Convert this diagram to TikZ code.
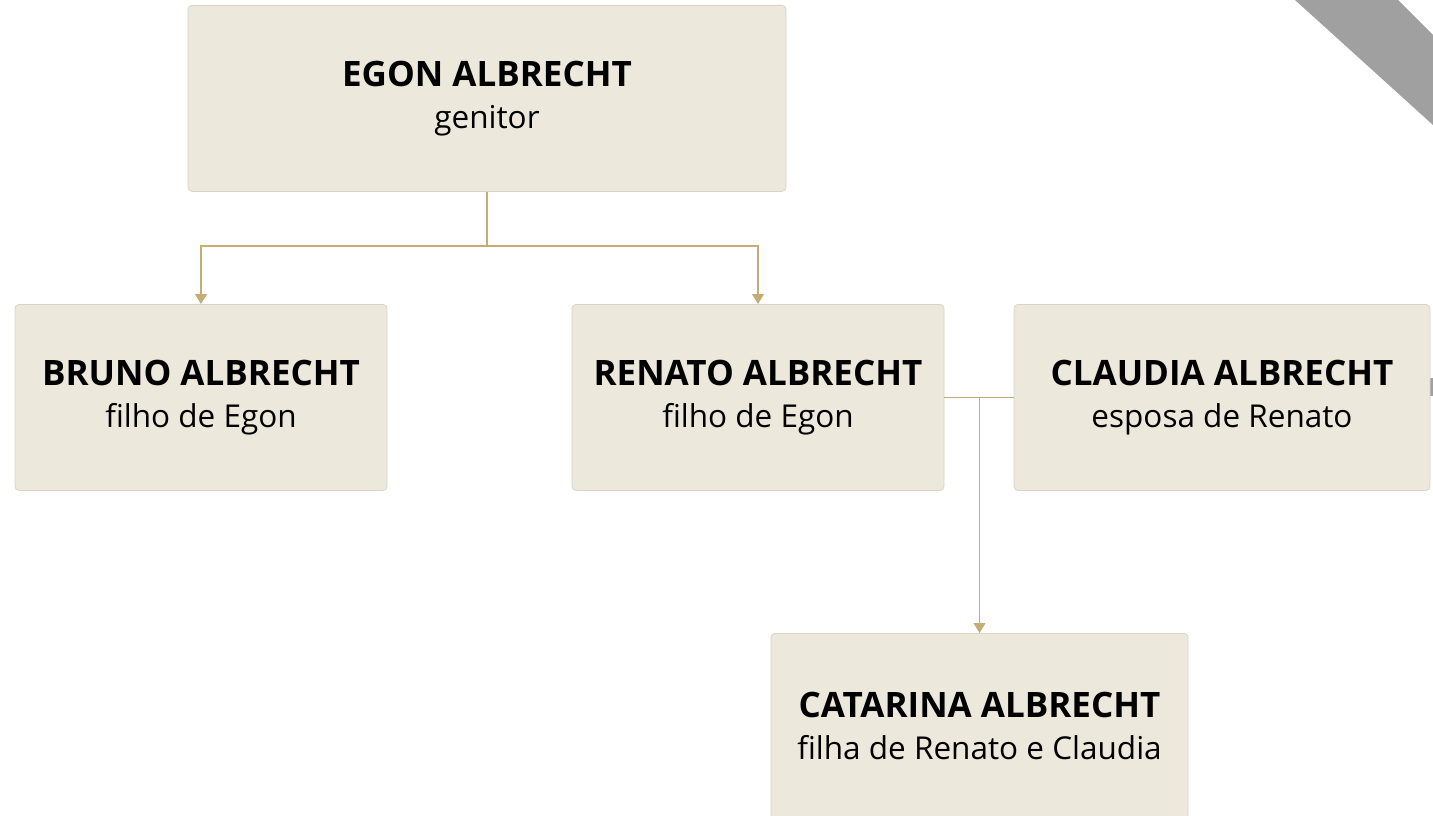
\documentclass[tikz,border=0pt]{standalone}
\usepackage{fontspec}
\setmainfont{Open Sans}
\usepackage{xcolor}
\usetikzlibrary{arrows.meta}
\definecolor{boxfill}{HTML}{ECE8DC}
\definecolor{boxline}{HTML}{DAD4C4}
\definecolor{linkcol}{HTML}{C4AC74}
\definecolor{bandcol}{HTML}{A0A0A0}
\newcommand{\nametext}[1]{{\bfseries\fontsize{35pt}{42pt}\selectfont #1}}
\begin{document}
\begin{tikzpicture}[x=1pt,y=-1pt,%
% common options for the person boxes:
person/.style = {draw=boxline, fill=boxfill, rounded corners=4pt, align=center,
            anchor=north, minimum height=186pt, inner sep=0, line width=0.8pt,
            font=\fontsize{31.5pt}{42pt}\selectfont},
% common options for the links:
link/.style = {draw=linkcol, line width=1.2pt},
arr/.style = {link, -{Triangle[width=12pt,length=10pt]}}]
\useasboundingbox (0,0) rectangle (1433,816);
\fill[bandcol] (1295,0) -- (1398,0) -- (1433,35) -- (1433,125) -- cycle;
\fill[bandcol] (1430,378) rectangle (1433,396);
\node[person,minimum width=598pt] (egon) at (487,5) {\nametext{EGON ALBRECHT}\\genitor};
\node[person,minimum width=372pt] (bruno) at (201,304) {\nametext{BRUNO ALBRECHT}\\filho de Egon};
\node[person,minimum width=372pt] (renato) at (758,304) {\nametext{RENATO ALBRECHT}\\filho de Egon};
\node[person,minimum width=416pt] (claudia) at (1222,304) {\nametext{CLAUDIA ALBRECHT}\\esposa de Renato};
\node[person,minimum width=417pt] (catarina) at (979.5,633) {\nametext{CATARINA ALBRECHT}\\filha de Renato e Claudia};
\coordinate (split) at (487,246);
\coordinate (couple) at (979.5,397);
\draw[link] (egon.south) -- (split);
\draw[arr] (split) -| (bruno.north);
\draw[arr] (split) -| (renato.north);
\draw[link] (renato.east) -- (claudia.west);
\draw[arr] (couple) -- (catarina.north);
\end{tikzpicture}
\end{document}
